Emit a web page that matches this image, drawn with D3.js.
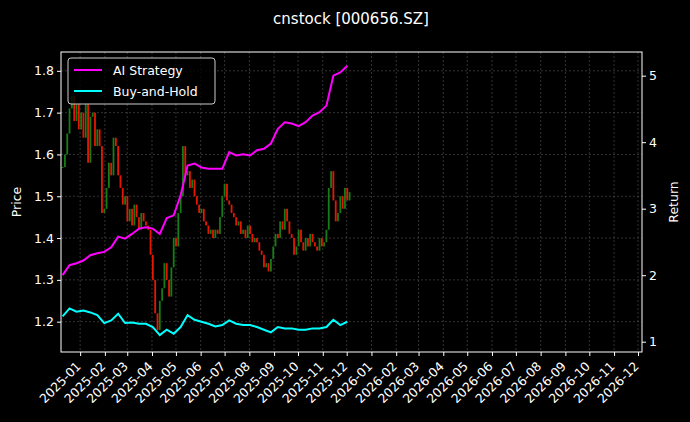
<!DOCTYPE html>
<html><head><meta charset="utf-8">
<script src="https://cdn.jsdelivr.net/npm/d3@7"></script>
<style>body{margin:0;background:#000}svg{display:block}text{font-family:"DejaVu Sans",sans-serif;fill:#fff}</style>
</head><body><svg id="c" width="690" height="422"></svg>
<script>
const title = "cnstock [000656.SZ]";
const closes = [1.57,1.60,1.65,1.71,1.74,1.68,1.72,1.66,1.70,1.64,1.72,1.58,1.69,1.70,1.62,1.66,1.62,1.46,
1.47,1.52,1.58,1.55,1.64,1.62,1.55,1.52,1.48,1.50,1.44,1.47,1.43,1.48,1.45,1.42,1.46,1.44,1.43,1.42,
1.36,1.30,1.22,1.18,1.25,1.28,1.34,1.30,1.26,1.33,1.40,1.38,1.46,1.50,1.62,1.55,
1.56,1.52,1.54,1.50,1.48,1.46,1.47,1.44,1.43,1.41,1.42,1.40,1.42,1.41,1.45,1.50,1.53,1.49,1.48,1.46,
1.45,1.43,1.44,1.41,1.42,1.40,1.43,1.41,1.39,1.40,1.39,1.37,1.36,1.33,1.34,1.32,1.35,1.38,1.41,
1.40,1.44,1.42,1.47,1.44,1.41,1.40,1.36,1.38,1.42,1.39,1.37,1.40,1.38,1.41,1.39,1.38,1.37,1.40,1.38,1.39,1.42,
1.52,1.56,1.49,1.44,1.46,1.50,1.47,1.52,1.49,1.51];
const aiReturn = [2.0,2.15,2.18,2.22,2.3,2.33,2.35,2.42,2.58,2.55,2.62,2.70,2.72,2.70,2.62,2.86,2.90,3.20,3.65,3.68,3.62,3.60,3.60,3.60,3.85,3.80,3.82,3.80,3.88,3.90,3.98,4.20,4.30,4.28,4.24,4.30,4.40,4.45,4.55,5.00,5.05,5.15];
const bhReturn = [1.38,1.50,1.45,1.47,1.44,1.40,1.28,1.32,1.42,1.28,1.29,1.27,1.27,1.22,1.10,1.18,1.12,1.22,1.40,1.33,1.30,1.27,1.23,1.25,1.32,1.27,1.25,1.25,1.22,1.18,1.14,1.22,1.20,1.20,1.18,1.18,1.20,1.20,1.22,1.33,1.25,1.30];
const priceTicks = [1.2,1.3,1.4,1.5,1.6,1.7,1.8];
const returnTicks = [1,2,3,4,5];
const startDate = new Date(2024,11,10);

const svg = d3.select("#c");
const L=61,R=642,T=52,B=352;
const x = d3.scaleTime().domain([new Date(2024,11,8), new Date(2026,11,6)]).range([L,R]);
const yP = d3.scaleLinear().domain([1.1275,1.845]).range([B,T]);
const yR = d3.scaleLinear().domain([0.845,5.356]).range([B,T]);
const dateOf = i => d3.timeHour.offset(startDate, Math.round(i*2.9*24));
const candles = closes.map((c,i)=>({d:dateOf(i),o:i?closes[i-1]:c,c}));
const months = d3.timeMonth.range(new Date(2025,0,1), new Date(2026,11,2));

const g = svg.append("g");
g.selectAll(".vg").data(months).join("line").attr("x1",d=>x(d)).attr("x2",d=>x(d)).attr("y1",T).attr("y2",B)
 .attr("stroke","#555").attr("stroke-width",0.6).attr("stroke-dasharray","2,2");
g.selectAll(".hg").data(priceTicks).join("line").attr("x1",L).attr("x2",R).attr("y1",d=>yP(d)).attr("y2",d=>yP(d))
 .attr("stroke","#555").attr("stroke-width",0.6).attr("stroke-dasharray","2,2");
g.selectAll(".cd").data(candles).join("rect")
 .attr("x",d=>x(d.d)-0.9).attr("width",1.8)
 .attr("y",d=>yP(Math.max(d.o,d.c))).attr("height",d=>Math.max(1,Math.abs(yP(d.o)-yP(d.c))))
 .attr("fill",d=>d.c>=d.o?"#1a8a1a":"#ff1a00").attr("opacity",0.9);
const lineDates = aiReturn.map((v,k)=>dateOf(k*3));
const ln = d3.line().x((d,k)=>x(lineDates[k])).y(d=>yR(d));
g.append("path").attr("d",ln(aiReturn)).attr("fill","none").attr("stroke","#ff00ff").attr("stroke-width",2);
g.append("path").attr("d",ln(bhReturn)).attr("fill","none").attr("stroke","#00ffff").attr("stroke-width",2);
svg.append("rect").attr("x",L).attr("y",T).attr("width",R-L).attr("height",B-T).attr("fill","none").attr("stroke","#fff").attr("stroke-width",1);
const fs="12.5px";
const ax = svg.append("g").attr("transform",`translate(0,${B})`).call(d3.axisBottom(x).tickValues(months).tickFormat(d3.timeFormat("%Y-%m")).tickSize(4).tickSizeOuter(0));
ax.select(".domain").remove();
ax.selectAll("line").attr("stroke","#fff");
ax.selectAll("text").attr("fill","#fff").style("font-size",fs).attr("text-anchor","end")
 .attr("x",0).attr("y",0).attr("dy","0.35em").attr("transform","translate(-2,12) rotate(-45)");
const ay = svg.append("g").attr("transform",`translate(${L},0)`).call(d3.axisLeft(yP).tickValues(priceTicks).tickFormat(d3.format(".1f")).tickSize(4));
ay.select(".domain").remove(); ay.selectAll("line").attr("stroke","#fff"); ay.selectAll("text").attr("fill","#fff").style("font-size",fs);
const ar = svg.append("g").attr("transform",`translate(${R},0)`).call(d3.axisRight(yR).tickValues(returnTicks).tickFormat(d3.format("d")).tickSize(4));
ar.select(".domain").remove(); ar.selectAll("line").attr("stroke","#fff"); ar.selectAll("text").attr("fill","#fff").style("font-size",fs);
svg.append("text").attr("x",351).attr("y",24).attr("text-anchor","middle").style("font-size","15px").text(title);
svg.append("text").attr("transform",`translate(21,${(T+B)/2}) rotate(-90)`).attr("text-anchor","middle").style("font-size",fs).text("Price");
svg.append("text").attr("transform",`translate(678,${(T+B)/2}) rotate(-90)`).attr("text-anchor","middle").style("font-size",fs).text("Return");
const lg = svg.append("g").attr("transform","translate(68,58)");
lg.append("rect").attr("width",147).attr("height",46).attr("rx",3).attr("fill","#000").attr("fill-opacity",0.8).attr("stroke","#ccc");
[["AI Strategy","#ff00ff"],["Buy-and-Hold","#00ffff"]].forEach(([t,c],k)=>{
  lg.append("line").attr("x1",6).attr("x2",34).attr("y1",12+k*21).attr("y2",12+k*21).attr("stroke",c).attr("stroke-width",2);
  lg.append("text").attr("x",45).attr("y",16.5+k*21).style("font-size",fs).text(t);
});
</script></body></html>
